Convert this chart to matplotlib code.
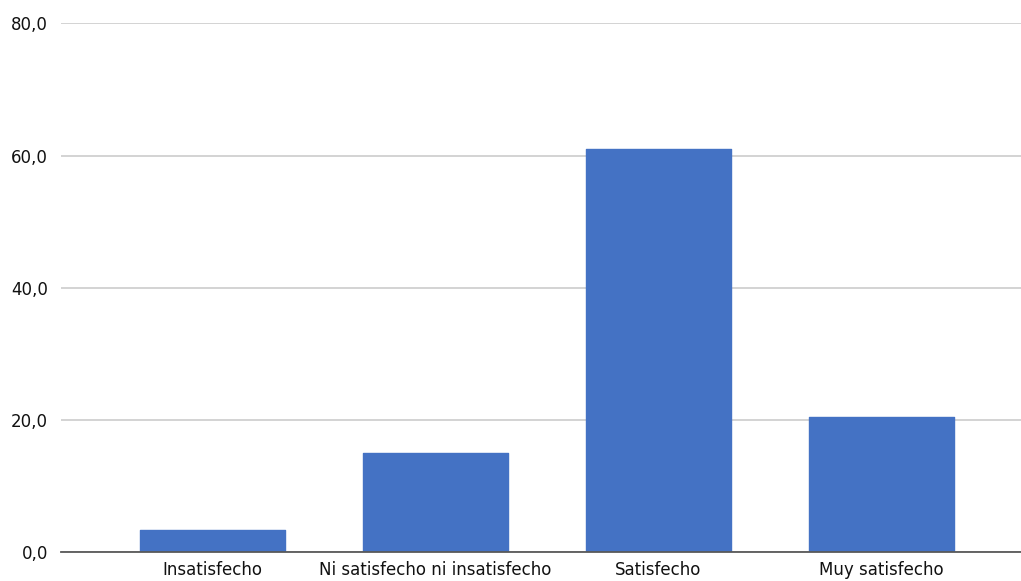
import matplotlib
matplotlib.use("Agg")
import matplotlib.pyplot as plt
from matplotlib.ticker import FuncFormatter

categories = ["Insatisfecho", "Ni satisfecho ni insatisfecho", "Satisfecho", "Muy satisfecho"]
values = [3.4, 15.0, 61.0, 20.4]
yticks = [0, 20, 40, 60, 80]

plt.rcParams['font.family'] = ['DejaVu Sans']

fig = plt.figure(figsize=(10.21, 5.81), dpi=100)
ax = fig.add_axes([0.0595, 0.0494, 1 - 0.0595, 0.9599 - 0.0494])

x = list(range(len(categories)))
bars = ax.bar(x, values, width=0.65, color="#4472C4", edgecolor="#4472C4",
              linewidth=1.0, joinstyle="round", zorder=3)

ax.set_ylim(0, 80)
ax.set_xlim(-0.679, 3.627)
ax.set_yticks(yticks)
ax.yaxis.set_major_formatter(FuncFormatter(lambda v, p: f"{v:.1f}".replace(".", ",")))
ax.set_xticks(x)
ax.set_xticklabels(categories)

ax.grid(axis="y", color="#d0d0d0", linewidth=1.3, zorder=0)
ax.set_axisbelow(True)
for s in ["top", "right", "left"]:
    ax.spines[s].set_visible(False)
ax.spines["bottom"].set_color("#595959")
ax.spines["bottom"].set_linewidth(1.3)
ax.spines["bottom"].set_zorder(4)

ax.tick_params(axis="y", length=0, pad=9, labelsize=12, labelcolor="#111111")
ax.tick_params(axis="x", length=0, pad=6.5, labelsize=12, labelcolor="#111111")

fig.savefig("out.png", dpi=100)
